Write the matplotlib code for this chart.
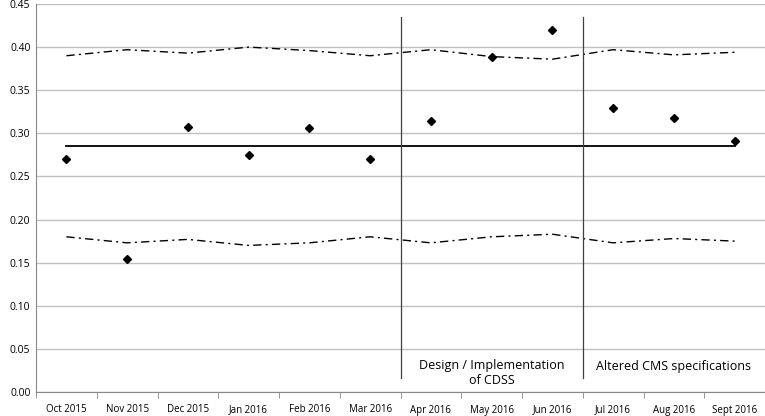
import matplotlib.pyplot as plt
import numpy as np

months = ["Oct 2015", "Nov 2015", "Dec 2015", "Jan 2016", "Feb 2016", "Mar 2016",
          "Apr 2016", "May 2016", "Jun 2016", "Jul 2016", "Aug 2016", "Sept 2016"]
rate = [0.270, 0.154, 0.307, 0.275, 0.306, 0.270, 0.314, 0.388, 0.420, 0.329, 0.318, 0.291]
center = [0.285] * 12
ucl = [0.390, 0.397, 0.393, 0.400, 0.396, 0.390, 0.397, 0.389, 0.386, 0.397, 0.391, 0.394]
lcl = [0.180, 0.173, 0.177, 0.170, 0.173, 0.180, 0.173, 0.180, 0.183, 0.173, 0.178, 0.175]
phase_breaks = [5.5, 8.5]
phase_labels = ["Design / Implementation\nof CDSS", "Altered CMS specifications"]

plt.rcParams['font.family'] = ['Open Sans', 'DejaVu Sans']

fig = plt.figure(figsize=(7.65, 4.16), dpi=100)
ax = fig.add_axes([36 / 765, 24 / 416, 729 / 765, 388 / 416])

x = np.arange(len(months))

# gridlines
ax.set_ylim(0, 0.45)
ax.set_yticks(np.arange(0, 0.451, 0.05))
ax.yaxis.grid(True, color="#c0c0c0", linewidth=1)
ax.set_axisbelow(True)

ax.plot(x, ucl, color="black", linestyle=(0, (6, 3, 1.5, 3)), linewidth=1)
ax.plot(x, lcl, color="black", linestyle=(0, (6, 3, 1.5, 3)), linewidth=1)
ax.plot(x, center, color="black", linewidth=1.3)
ax.plot(x, rate, linestyle="none", marker="D", color="black", markersize=4.5)

for b in phase_breaks:
    ax.plot([b, b], [0.016, 0.435], color="#404040", linewidth=0.9)

ax.text(7.0, 0.022, phase_labels[0], ha="center", va="center", fontsize=9,
        linespacing=1.15)
ax.text(10.0, 0.030, phase_labels[1], ha="center", va="center", fontsize=9)

ax.set_xlim(-0.5, len(months) - 0.5)
ax.set_xticks(x)
ax.set_xticklabels(months, fontsize=7)
ax.set_xticks(np.arange(-0.5, len(months), 1), minor=True)
ax.tick_params(axis="x", which="major", length=0, pad=9)
ax.tick_params(axis="x", which="minor", length=4, color="#888888")
ax.tick_params(axis="y", length=0, labelsize=7.5, pad=4)
ax.set_yticklabels([f"{v:.2f}" for v in np.arange(0, 0.451, 0.05)])

for s in ["top", "right"]:
    ax.spines[s].set_visible(False)
ax.spines["left"].set_color("#888888")
ax.spines["bottom"].set_color("#888888")

fig.savefig("out.png", dpi=100)
